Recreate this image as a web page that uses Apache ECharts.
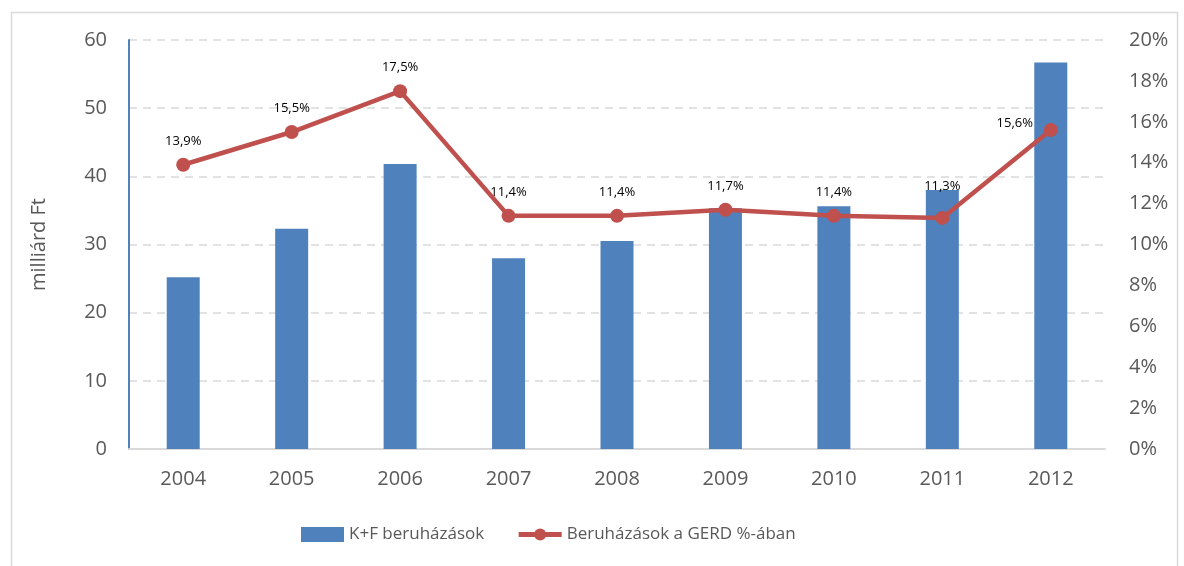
<!DOCTYPE html>
<html><head><meta charset="utf-8">
<script src="https://cdn.jsdelivr.net/npm/echarts@6/dist/echarts.min.js"></script>
<style>html,body{margin:0;padding:0;background:#fff}#c{width:1184px;height:566px}</style>
</head><body><div id="c"></div>
<script>
const years = ['2004','2005','2006','2007','2008','2009','2010','2011','2012'];
const investments = [25.2, 32.3, 41.8, 28.0, 30.5, 35.3, 35.6, 38.0, 56.7];
const gerdShare = [13.9, 15.5, 17.5, 11.4, 11.4, 11.7, 11.4, 11.3, 15.6];
const barName = 'K+F beruházások';
const lineName = 'Beruházások a GERD %-ában';
const leftAxisName = 'milliárd Ft';

const font = '"Open Sans", "Liberation Sans", sans-serif';
const chart = echarts.init(document.getElementById('c'));
chart.setOption({
  animation: false,
  textStyle: {fontFamily: font},
  graphic: [{type: 'rect', left: 9, top: 10, shape: {width: 1166, height: 620}, style: {fill: 'none', stroke: '#d9d9d9', lineWidth: 1.5}, silent: true}],
  grid: {left: 129, right: 79, top: 40, bottom: 117},
  legend: {
    bottom: 18, left: 296, itemGap: 32, itemWidth: 43, itemHeight: 15,
    textStyle: {fontSize: 17, color: '#595959', fontFamily: font},
    data: [
      {name: barName, icon: 'rect'},
      {name: lineName, lineStyle: {width: 5, color: '#C0504D'}, itemStyle: {color: '#C0504D'}}
    ]
  },
  xAxis: {
    type: 'category', data: years,
    axisLine: {lineStyle: {color: '#d9d9d9', width: 2}},
    axisTick: {show: false},
    axisLabel: {fontSize: 20, color: '#595959', margin: 20}
  },
  yAxis: [{
    type: 'value', min: 0, max: 60, interval: 10,
    name: leftAxisName, nameLocation: 'middle', nameGap: 80, nameRotate: 90,
    nameTextStyle: {fontSize: 20, color: '#595959'},
    axisLine: {show: true, lineStyle: {color: '#4F81BD', width: 2}},
    axisTick: {show: false},
    axisLabel: {fontSize: 20, color: '#595959', margin: 22},
    splitLine: {lineStyle: {color: '#d9d9d9', type: [8, 6], width: 1.5}}
  }, {
    type: 'value', min: 0, max: 20, interval: 2,
    axisLine: {show: false}, axisTick: {show: false},
    axisLabel: {fontSize: 20, color: '#595959', margin: 24, formatter: '{value}%'},
    splitLine: {show: false}
  }],
  series: [{
    name: barName, type: 'bar', data: investments, barWidth: 33,
    itemStyle: {color: '#4F81BD'}, z: 2
  }, {
    name: lineName, type: 'line', yAxisIndex: 1, data: gerdShare,
    symbol: 'circle', symbolSize: 14,
    lineStyle: {color: '#C0504D', width: 4.5},
    itemStyle: {color: '#C0504D'}, z: 3,
    label: {
      show: true, position: 'top', distance: 10, fontSize: 13, color: '#000',
      formatter: p => p.value.toFixed(1).replace('.', ',') + '%'
    },
    labelLayout: p => p.dataIndex === 8 ? {dx: -36, dy: 17} : (p.dataIndex === 7 ? {dy: -8} : {})
  }]
});
</script></body></html>
